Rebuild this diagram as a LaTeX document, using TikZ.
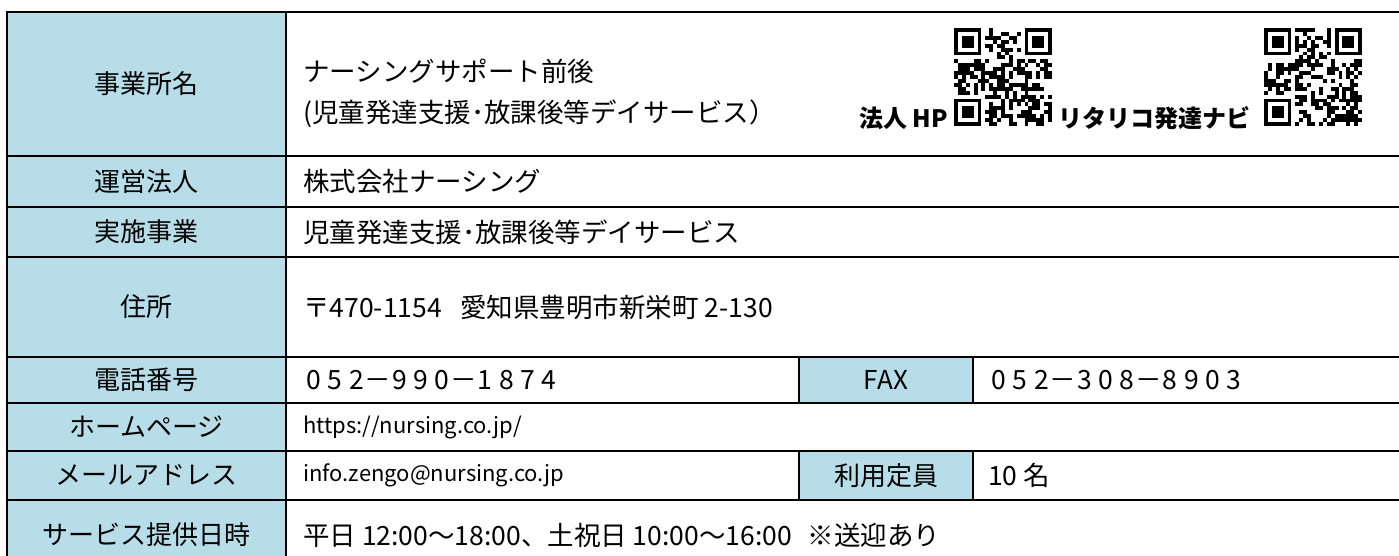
\documentclass[tikz,border=0pt]{standalone}
\usepackage{fontspec}
\setmainfont{Noto Sans CJK JP}
\makeatletter
\newcommand\boxchars[2]{\@tfor\bxch:=#2\do{\makebox[#1]{\bxch}}}
\makeatother
\begin{document}
\begin{tikzpicture}[x=1pt,y=-1pt,
  lab/.style={font=\fontsize{26}{28}\selectfont, anchor=center, inner sep=0pt},
  val/.style={font=\fontsize{26.5}{28}\selectfont, anchor=west, inner sep=0pt},
  small/.style={font=\fontsize{22}{24}\selectfont, anchor=west, inner sep=0pt},
  qrlab/.style={font=\fontsize{24}{26}\selectfont\bfseries, inner sep=0pt},
  grid/.style={line width=2pt, black}]
\definecolor{cellblue}{HTML}{B7DDE8}
\useasboundingbox (0,0) rectangle (1399,556);
\begin{scope}
\clip (0,0) rectangle (1399,556);
% fills
\fill[cellblue] (7,12) rectangle (286,600);
\fill[cellblue] (799,357) rectangle (973,403);
\fill[cellblue] (799,451) rectangle (973,500);
% grid lines
\draw[grid] (7,600) -- (7,12) -- (1399,12);
\draw[grid] (286,12) -- (286,600);
\foreach \yy in {156,207,257,357,403,451,500} {\draw[grid] (7,\yy) -- (1399,\yy);}
\draw[grid] (799,357) -- (799,403);
\draw[grid] (973,357) -- (973,403);
\draw[grid] (799,451) -- (799,500);
\draw[grid] (973,451) -- (973,500);
\end{scope}
% labels
\node[lab] (l1) at (146.5,84) {事業所名};
\node[lab] (l2) at (146.5,181.5) {運営法人};
\node[lab] (l3) at (146.5,232) {実施事業};
\node[lab] (l4) at (146.5,307) {住所};
\node[lab] (l5) at (146.5,380) {電話番号};
\node[lab] (l6) at (146.5,427) {ホームページ};
\node[lab] (l7) at (146.5,475.5) {メールアドレス};
\node[lab] (l8) at (146.5,535) {サービス提供日時};
\node[lab] (lfax) at (886,380) {FAX};
\node[lab] (lcap) at (886,475.5) {利用定員};
% values
\node[val] (v1a) at (303,71) {ナーシングサポート前後};
\node[val] (v1b) at (303,114) {(児童発達支援･放課後等デイサービス）};
\node[val] (v2) at (303,181.5) {株式会社ナーシング};
\node[val] (v3) at (303,232) {児童発達支援･放課後等デイサービス};
\node[val] (v4) at (303,307) {〒470-1154\hspace{0.7em}愛知県豊明市新栄町 2-130};
\node[val] (v5) at (303,380) {\boxchars{21.4pt}{052－990－1874}};
\node[val] (vfax) at (988,380) {\boxchars{21.4pt}{052－308－8903}};
\node[small] (v6) at (303,427) {https://nursing.co.jp/};
\node[small] (v7) at (303,475.5) {info.zengo@nursing.co.jp};
\node[val] (vcap) at (988,475.5) {10 名};
\node[val] (v8) at (303,535) {平日 12:00～18:00、土祝日 10:00～16:00\hspace{0.6em}※送迎あり};
% QR labels
\node[qrlab, anchor=base east] (q1l) at (948,128) {法人 HP};
\node[qrlab, anchor=base west] (q2l) at (1058,128) {リタリコ発達ナビ};
% QR codes
\foreach \qx/\qy/\sd in {954/28/11, 1264/28/29} {
  \begin{scope}[shift={(\qx,\qy)}, x=3.92pt, y=-3.92pt]
    \pgfmathsetseed{\sd}
    \foreach \i in {0,...,24} {
      \foreach \j in {0,...,24} {
        \pgfmathtruncatemacro\inf{((\i<8)&&(\j<8))||((\i>16)&&(\j<8))||((\i<8)&&(\j>16))}
        \pgfmathtruncatemacro\on{rnd<0.5?1:0}
        \ifnum\inf=0 \ifnum\on=1 \fill (\i,\j) rectangle ++(1,1); \fi\fi
      }
    }
    \foreach \fx/\fy in {0/0, 18/0, 0/18} {
      \fill (\fx,\fy) rectangle ++(7,7);
      \fill[white] (\fx+1,\fy+1) rectangle ++(5,5);
      \fill (\fx+2,\fy+2) rectangle ++(3,3);
    }
  \end{scope}
}
\end{tikzpicture}
\end{document}
